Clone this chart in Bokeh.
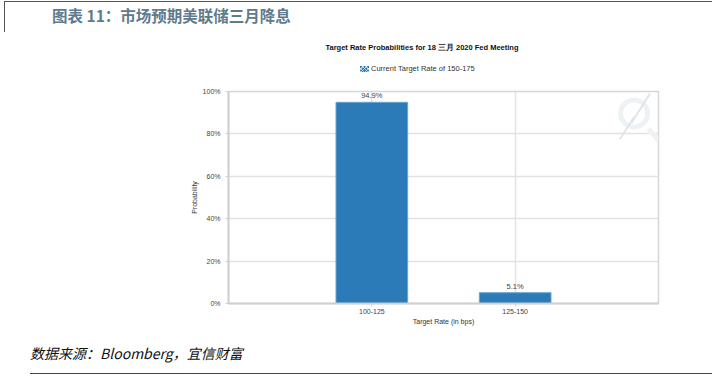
from bokeh.plotting import figure
from bokeh.layouts import column
from bokeh.models import (Range1d, FixedTicker, ColumnDataSource, LabelSet,
                          PrintfTickFormatter, Div)
from bokeh.core.properties import value
from bokeh.embed import file_html
from bokeh.resources import INLINE

# ---- data ----
categories = ["100-125", "125-150"]
probabilities = [94.9, 5.1]
bar_labels = ["94.9%", "5.1%"]
y_ticks = [0, 20, 40, 60, 80, 100]

header_text = "图表 11：市场预期美联储三月降息"
chart_title = "Target Rate Probabilities for 18 三月 2020  Fed Meeting"
legend_text = "Current Target Rate of 150-175"
source_text = "数据来源：Bloomberg，宜信财富"

BAR = "#2b7bb9"
W = 712
H_TOP, H_MAIN, H_BOT = 80, 256, 50

# ---- header: title, chart title, legend (HTML) ----
swatch_bg = ("background-color:%s;background-image:"
             "repeating-linear-gradient(45deg,rgba(255,255,255,.6) 0 1px,transparent 1px 2.5px),"
             "repeating-linear-gradient(-45deg,rgba(255,255,255,.6) 0 1px,transparent 1px 2.5px);" % BAR)
header_html = f"""
<div style="position:relative;width:{W}px;height:{H_TOP}px;overflow:hidden;background:white;">
  <div style="position:absolute;left:4px;top:1px;width:{W}px;height:0;border-top:1px solid #555;"></div>
  <div style="position:absolute;left:4px;top:1px;width:0;height:31px;border-left:1px solid #555;"></div>
  <div style="position:absolute;left:52px;top:4px;line-height:22px;white-space:nowrap;
              font-family:'Noto Sans CJK SC';font-weight:bold;font-size:15.5px;color:#5e7b8d;">{header_text}</div>
  <div style="position:absolute;left:222px;width:400px;top:42px;line-height:12px;text-align:center;white-space:nowrap;
              font-family:'Liberation Sans';font-weight:bold;font-size:7.5px;color:#111;">{chart_title}</div>
  <div style="position:absolute;left:360px;top:66px;width:9px;height:6px;{swatch_bg}"></div>
  <div style="position:absolute;left:371px;top:63px;line-height:12px;white-space:nowrap;
              font-family:'Liberation Sans';font-size:7.5px;color:#333;">{legend_text}</div>
</div>
"""
top = Div(text=header_html, width=W, height=H_TOP, margin=(0, 0, 0, 0))

# ---- main chart ----
FL, FR, FT, FB = 228, 658, 91 - H_TOP, 303 - H_TOP
xs = list(range(len(categories)))

p = figure(width=W, height=H_MAIN, output_backend="svg", toolbar_location=None,
           x_range=Range1d(-1, len(categories)), y_range=Range1d(0, 100),
           min_border_left=FL, min_border_right=W - FR,
           min_border_top=FT, min_border_bottom=H_MAIN - FB, margin=(0, 0, 0, 0))
p.background_fill_color = "white"
p.border_fill_color = "white"
p.outline_line_color = "#d6d6d6"
p.outline_line_width = 1.5

# faint watermark logo (upper right of plot area)
p.annulus(x=[1.83], y=[89.6], inner_radius=11, outer_radius=16,
          inner_radius_units="screen", outer_radius_units="screen",
          fill_color="#eef2f5", line_color=None)
p.line(x=[1.93, 2.0], y=[82.5, 77], line_color="#eef2f5", line_width=5)
p.line(x=[1.73, 1.83, 1.81, 1.94], y=[77.5, 88, 85, 99], line_color="#e2e4e6", line_width=2)

src = ColumnDataSource(dict(x=xs, top=probabilities, lab=bar_labels))
p.vbar(x="x", top="top", width=0.5, source=src, fill_color=BAR,
       line_color="#6aa3cf", line_width=1)
p.add_layout(LabelSet(x="x", y="top", text="lab", source=src, y_offset=2,
                      text_align="center", text_baseline="bottom",
                      text_font_size="7.5px", text_color="#444444",
                      text_font=value("Liberation Sans")))

p.yaxis.ticker = FixedTicker(ticks=y_ticks)
p.yaxis.formatter = PrintfTickFormatter(format="%d%%")
p.yaxis.axis_label = "Probability"
p.xaxis.ticker = FixedTicker(ticks=xs)
p.xaxis.major_label_overrides = {i: c for i, c in enumerate(categories)}
p.xaxis.axis_label = "Target Rate (in bps)"
for ax in (p.xaxis, p.yaxis):
    ax.axis_line_color = "#d0d0d0"
    ax.axis_line_width = 2
    ax.major_tick_line_color = "#d0d0d0"
    ax.major_tick_in = 0
    ax.major_tick_out = 3
    ax.minor_tick_line_color = None
    ax.major_label_text_font_size = "7px"
    ax.major_label_text_color = "#444444"
    ax.major_label_text_font = "Liberation Sans"
    ax.axis_label_text_font_size = "7px"
    ax.axis_label_text_font_style = "normal"
    ax.axis_label_text_color = "#333333"
    ax.axis_label_text_font = "Liberation Sans"
p.xaxis.major_label_standoff = 2
p.xaxis.axis_label_standoff = 1
p.yaxis.major_label_standoff = 5
p.yaxis.axis_label_standoff = 2

p.xgrid.ticker = FixedTicker(ticks=xs)
p.ygrid.ticker = FixedTicker(ticks=y_ticks)
for g in (p.xgrid, p.ygrid):
    g.grid_line_color = "#e2e2e2"
    g.grid_line_width = 1.5

# ---- footer: source (HTML) ----
footer_html = f"""
<div style="position:relative;width:{W}px;height:{H_BOT}px;overflow:hidden;background:white;">
  <div style="position:absolute;left:30px;top:7px;line-height:20px;white-space:nowrap;
              font-family:'Noto Sans CJK SC';font-style:italic;font-size:14px;color:#111;">{source_text}</div>
  <div style="position:absolute;left:30px;top:37px;width:{W}px;height:0;border-top:1px solid #444;"></div>
</div>
"""
bot = Div(text=footer_html, width=W, height=H_BOT, margin=(0, 0, 0, 0))

layout = column(top, p, bot, spacing=0)
open("out.html", "w").write(file_html(layout, INLINE))
